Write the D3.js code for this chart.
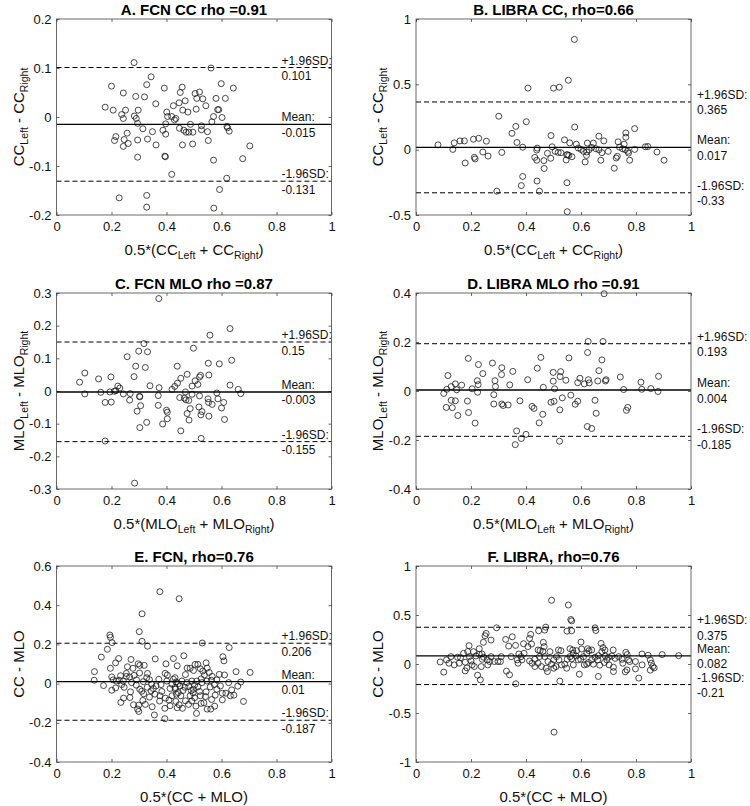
<!DOCTYPE html>
<html><head><meta charset="utf-8">
<script src="https://cdn.jsdelivr.net/npm/d3@7"></script>
<style>body{margin:0;background:#fff}svg{display:block;font-family:"Liberation Sans",Arial,Helvetica,sans-serif}</style>
</head><body><svg id="c" width="750" height="806"></svg>
<script>
// ---------- DATA ----------
const panelA = [[0.282,0.111],[0.562,0.100],[0.344,0.082],[0.200,0.063],[0.328,0.066],[0.392,0.059],[0.457,0.061],[0.599,0.068],[0.643,0.059],[0.243,0.049],[0.288,0.042],[0.320,0.041],[0.450,0.050],[0.504,0.048],[0.520,0.051],[0.510,0.038],[0.532,0.037],[0.580,0.038],[0.614,0.038],[0.361,0.027],[0.468,0.033],[0.446,0.029],[0.425,0.023],[0.543,0.023],[0.177,0.020],[0.206,0.014],[0.251,0.014],[0.297,0.014],[0.237,0.005],[0.243,-0.003],[0.283,0.002],[0.290,-0.003],[0.401,0.010],[0.459,0.014],[0.478,0.010],[0.508,0.016],[0.586,0.015],[0.590,0.015],[0.404,0.001],[0.419,0.001],[0.434,-0.003],[0.429,-0.006],[0.571,0.001],[0.602,-0.001],[0.565,-0.010],[0.295,-0.013],[0.397,-0.014],[0.487,-0.015],[0.527,-0.018],[0.620,-0.019],[0.622,-0.022],[0.314,-0.024],[0.447,-0.023],[0.463,-0.027],[0.471,-0.031],[0.481,-0.031],[0.496,-0.031],[0.527,-0.026],[0.549,-0.030],[0.628,-0.029],[0.257,-0.033],[0.216,-0.040],[0.211,-0.048],[0.246,-0.046],[0.261,-0.054],[0.243,-0.060],[0.295,-0.047],[0.331,-0.045],[0.349,-0.030],[0.387,-0.027],[0.397,-0.035],[0.362,-0.057],[0.458,-0.057],[0.495,-0.055],[0.552,-0.048],[0.703,-0.059],[0.295,-0.082],[0.394,-0.080],[0.396,-0.081],[0.571,-0.088],[0.677,-0.085],[0.419,-0.117],[0.619,-0.125],[0.593,-0.148],[0.228,-0.165],[0.328,-0.160],[0.328,-0.184],[0.572,-0.186]];

const panelB = [[0.576,0.844],[0.407,0.471],[0.500,0.471],[0.521,0.478],[0.554,0.531],[0.301,0.256],[0.401,0.214],[0.363,0.178],[0.349,0.125],[0.577,0.173],[0.795,0.161],[0.763,0.128],[0.491,0.108],[0.665,0.103],[0.763,0.095],[0.080,0.037],[0.139,0.052],[0.160,0.067],[0.176,0.067],[0.209,0.080],[0.228,0.087],[0.256,0.065],[0.367,0.055],[0.388,0.019],[0.540,0.075],[0.559,0.052],[0.583,0.042],[0.623,0.050],[0.645,0.050],[0.683,0.067],[0.735,0.060],[0.757,0.042],[0.134,0.002],[0.243,-0.018],[0.262,-0.049],[0.212,-0.059],[0.215,-0.071],[0.179,-0.102],[0.312,-0.021],[0.441,0.012],[0.439,-0.003],[0.495,0.022],[0.478,-0.028],[0.432,-0.059],[0.439,-0.081],[0.465,-0.084],[0.490,-0.066],[0.506,-0.013],[0.517,-0.021],[0.527,-0.023],[0.548,-0.039],[0.551,-0.039],[0.556,-0.044],[0.567,-0.054],[0.546,-0.079],[0.590,0.012],[0.600,0.002],[0.609,-0.013],[0.621,-0.018],[0.629,-0.001],[0.639,0.017],[0.654,0.007],[0.665,-0.001],[0.676,-0.023],[0.699,-0.013],[0.620,-0.044],[0.615,-0.094],[0.672,-0.081],[0.740,0.019],[0.751,0.007],[0.761,-0.001],[0.770,-0.013],[0.773,-0.026],[0.795,0.002],[0.732,-0.051],[0.728,-0.064],[0.777,-0.081],[0.834,0.022],[0.843,0.024],[0.876,-0.018],[0.902,-0.081],[0.721,-0.142],[0.466,-0.144],[0.388,-0.205],[0.440,-0.240],[0.383,-0.275],[0.294,-0.318],[0.449,-0.318],[0.549,-0.253],[0.550,-0.475]];

const panelC = [[0.372,0.283],[0.631,0.191],[0.558,0.171],[0.318,0.145],[0.299,0.122],[0.331,0.120],[0.498,0.131],[0.257,0.105],[0.637,0.094],[0.552,0.085],[0.592,0.083],[0.288,0.076],[0.323,0.072],[0.439,0.076],[0.103,0.055],[0.153,0.037],[0.198,0.043],[0.282,0.044],[0.475,0.051],[0.524,0.048],[0.554,0.049],[0.084,0.027],[0.223,0.015],[0.230,0.009],[0.340,0.016],[0.373,0.010],[0.430,0.014],[0.440,0.024],[0.452,0.039],[0.493,0.015],[0.504,0.031],[0.514,0.020],[0.520,0.043],[0.631,0.018],[0.661,0.005],[0.103,-0.009],[0.161,-0.004],[0.194,-0.003],[0.210,-0.001],[0.216,0.001],[0.243,-0.009],[0.268,-0.008],[0.302,-0.016],[0.303,-0.018],[0.370,-0.014],[0.420,0.005],[0.448,-0.020],[0.465,-0.022],[0.469,-0.003],[0.471,-0.027],[0.481,-0.029],[0.493,-0.010],[0.520,-0.015],[0.551,-0.024],[0.553,-0.035],[0.566,-0.041],[0.583,-0.006],[0.587,-0.024],[0.608,-0.035],[0.670,-0.008],[0.177,-0.035],[0.199,-0.034],[0.266,-0.028],[0.306,-0.045],[0.293,-0.062],[0.370,-0.044],[0.400,-0.059],[0.403,-0.065],[0.403,-0.085],[0.486,-0.054],[0.475,-0.069],[0.482,-0.089],[0.518,-0.049],[0.529,-0.063],[0.525,-0.073],[0.554,-0.077],[0.600,-0.052],[0.611,-0.087],[0.328,-0.096],[0.303,-0.112],[0.386,-0.101],[0.452,-0.122],[0.526,-0.145],[0.177,-0.153],[0.284,-0.282]];

const panelD = [[0.684,0.397],[0.626,0.202],[0.680,0.202],[0.624,0.157],[0.190,0.133],[0.454,0.137],[0.556,0.135],[0.676,0.127],[0.227,0.108],[0.278,0.114],[0.312,0.095],[0.352,0.080],[0.243,0.071],[0.311,0.067],[0.441,0.093],[0.499,0.076],[0.526,0.079],[0.524,0.059],[0.116,0.063],[0.223,0.042],[0.287,0.042],[0.406,0.046],[0.499,0.040],[0.545,0.044],[0.596,0.052],[0.588,0.034],[0.612,0.029],[0.627,0.046],[0.630,0.033],[0.665,0.083],[0.661,0.041],[0.689,0.041],[0.691,0.046],[0.743,0.057],[0.818,0.036],[0.882,0.060],[0.143,0.029],[0.166,0.024],[0.128,0.018],[0.148,0.005],[0.112,0.007],[0.101,-0.010],[0.204,0.009],[0.226,0.026],[0.224,-0.005],[0.289,0.018],[0.341,0.025],[0.463,0.015],[0.504,0.009],[0.755,0.006],[0.821,0.007],[0.854,0.010],[0.880,-0.002],[0.128,-0.038],[0.143,-0.040],[0.110,-0.067],[0.132,-0.068],[0.187,-0.041],[0.283,-0.015],[0.283,-0.053],[0.312,-0.053],[0.317,-0.059],[0.335,-0.057],[0.378,-0.040],[0.422,-0.063],[0.429,-0.071],[0.491,-0.046],[0.502,-0.042],[0.532,-0.028],[0.563,-0.017],[0.588,-0.042],[0.579,-0.054],[0.651,-0.038],[0.523,-0.077],[0.191,-0.088],[0.152,-0.100],[0.461,-0.095],[0.655,-0.091],[0.770,-0.067],[0.765,-0.079],[0.215,-0.131],[0.448,-0.130],[0.623,-0.145],[0.639,-0.153],[0.366,-0.163],[0.400,-0.177],[0.383,-0.194],[0.361,-0.219],[0.522,-0.205]];

const panelE = [[0.376,0.469],[0.446,0.433],[0.311,0.356],[0.301,0.265],[0.194,0.248],[0.196,0.236],[0.202,0.209],[0.311,0.216],[0.331,0.191],[0.530,0.207],[0.628,0.184],[0.185,0.175],[0.163,0.135],[0.605,0.137],[0.609,0.116],[0.226,0.128],[0.215,0.106],[0.271,0.123],[0.297,0.101],[0.359,0.126],[0.425,0.128],[0.463,0.142],[0.398,0.101],[0.544,0.106],[0.514,0.098],[0.196,0.078],[0.138,0.061],[0.137,0.017],[0.171,-0.010],[0.201,0.034],[0.206,0.019],[0.233,0.040],[0.254,0.052],[0.258,0.086],[0.278,0.078],[0.303,0.093],[0.319,0.093],[0.266,0.034],[0.282,0.042],[0.302,0.054],[0.331,0.052],[0.338,0.020],[0.395,0.052],[0.403,0.044],[0.439,0.091],[0.475,0.079],[0.486,0.078],[0.498,0.067],[0.504,0.098],[0.523,0.076],[0.532,0.064],[0.548,0.079],[0.555,0.057],[0.566,0.037],[0.592,0.047],[0.611,0.044],[0.653,0.061],[0.704,0.057],[0.538,0.044],[0.526,0.024],[0.469,0.046],[0.372,0.022],[0.425,0.022],[0.435,0.008],[0.443,0.000],[0.449,-0.012],[0.420,-0.003],[0.380,-0.005],[0.362,-0.012],[0.237,-0.005],[0.215,-0.022],[0.246,-0.019],[0.290,-0.008],[0.316,0.010],[0.330,-0.019],[0.344,-0.037],[0.201,-0.034],[0.234,-0.096],[0.269,-0.042],[0.310,-0.039],[0.338,-0.069],[0.358,-0.054],[0.267,-0.071],[0.280,-0.108],[0.299,-0.110],[0.299,-0.142],[0.295,-0.130],[0.314,-0.086],[0.323,-0.106],[0.348,-0.118],[0.356,-0.160],[0.394,-0.179],[0.375,-0.089],[0.396,-0.074],[0.409,-0.084],[0.394,-0.126],[0.413,-0.113],[0.432,-0.029],[0.436,-0.054],[0.420,-0.062],[0.434,-0.091],[0.439,-0.123],[0.452,-0.062],[0.460,-0.035],[0.467,-0.019],[0.481,-0.015],[0.490,-0.035],[0.497,-0.047],[0.502,-0.007],[0.510,0.013],[0.514,-0.017],[0.520,-0.040],[0.502,-0.072],[0.492,-0.089],[0.480,-0.106],[0.507,-0.115],[0.509,-0.152],[0.526,-0.101],[0.536,-0.098],[0.542,-0.066],[0.544,-0.042],[0.559,-0.017],[0.563,0.017],[0.574,-0.005],[0.583,0.019],[0.577,-0.059],[0.564,-0.081],[0.548,-0.130],[0.561,-0.130],[0.575,-0.115],[0.603,-0.049],[0.616,-0.049],[0.637,-0.032],[0.645,-0.059],[0.659,-0.013],[0.670,0.008],[0.680,-0.091],[0.603,-0.083],[0.469,-0.088],[0.446,-0.108],[0.458,-0.126],[0.244,-0.074],[0.317,-0.052],[0.383,-0.040],[0.352,-0.025],[0.254,0.037],[0.228,0.017],[0.431,0.030],[0.456,0.013],[0.474,0.005],[0.492,0.013],[0.498,-0.029],[0.529,0.005],[0.547,0.013],[0.431,-0.020],[0.401,0.013],[0.413,-0.025],[0.243,0.013],[0.273,0.005],[0.303,-0.029],[0.291,0.019],[0.328,0.030],[0.218,0.013],[0.346,-0.003],[0.376,-0.062],[0.443,-0.046],[0.486,-0.062],[0.523,-0.062],[0.596,-0.012],[0.626,0.005],[0.632,-0.062],[0.583,-0.029]];

const panelF = [[0.493,0.650],[0.554,0.602],[0.563,0.454],[0.566,0.440],[0.651,0.369],[0.654,0.342],[0.549,0.335],[0.566,0.339],[0.472,0.376],[0.468,0.346],[0.293,0.369],[0.255,0.312],[0.251,0.288],[0.273,0.244],[0.245,0.221],[0.326,0.251],[0.350,0.278],[0.337,0.183],[0.362,0.190],[0.417,0.302],[0.413,0.261],[0.420,0.204],[0.407,0.177],[0.391,0.207],[0.446,0.339],[0.463,0.221],[0.466,0.177],[0.600,0.224],[0.673,0.210],[0.193,0.187],[0.230,0.156],[0.444,0.143],[0.451,0.136],[0.461,0.129],[0.393,0.109],[0.560,0.156],[0.570,0.143],[0.584,0.136],[0.602,0.153],[0.624,0.156],[0.629,0.136],[0.680,0.167],[0.687,0.143],[0.717,0.143],[0.763,0.119],[0.822,0.102],[0.844,0.089],[0.895,0.096],[0.955,0.085],[0.188,0.126],[0.209,0.126],[0.173,0.109],[0.151,0.069],[0.127,0.075],[0.111,0.042],[0.088,0.021],[0.120,0.008],[0.139,-0.009],[0.101,-0.083],[0.162,0.065],[0.179,0.018],[0.194,0.075],[0.200,0.031],[0.218,0.082],[0.230,0.099],[0.240,0.102],[0.246,0.069],[0.241,0.048],[0.259,0.042],[0.268,0.025],[0.285,0.025],[0.298,0.025],[0.307,0.025],[0.212,-0.026],[0.185,-0.040],[0.179,-0.070],[0.204,-0.009],[0.237,-0.026],[0.224,-0.114],[0.234,-0.161],[0.329,-0.073],[0.340,-0.110],[0.363,-0.202],[0.368,0.042],[0.374,0.102],[0.382,0.075],[0.385,0.042],[0.413,0.031],[0.422,0.008],[0.432,0.048],[0.449,0.075],[0.456,-0.026],[0.473,-0.043],[0.478,-0.077],[0.493,-0.002],[0.501,0.042],[0.511,0.075],[0.518,0.143],[0.527,0.136],[0.520,0.042],[0.529,-0.009],[0.541,-0.002],[0.501,-0.043],[0.509,-0.026],[0.550,0.048],[0.560,0.075],[0.566,0.055],[0.572,0.109],[0.582,0.082],[0.590,0.042],[0.599,0.048],[0.609,0.075],[0.612,-0.009],[0.621,-0.002],[0.627,0.015],[0.639,0.042],[0.645,-0.002],[0.651,0.069],[0.661,0.042],[0.668,-0.012],[0.663,0.085],[0.676,0.126],[0.688,0.082],[0.700,0.069],[0.712,0.082],[0.724,0.058],[0.737,0.075],[0.749,0.048],[0.768,0.096],[0.773,0.042],[0.777,0.025],[0.685,0.015],[0.694,0.042],[0.702,-0.009],[0.718,-0.033],[0.718,-0.077],[0.767,-0.060],[0.761,-0.080],[0.798,-0.050],[0.810,-0.144],[0.852,0.042],[0.856,0.008],[0.861,-0.026],[0.866,-0.040],[0.852,-0.063],[0.663,-0.127],[0.594,-0.104],[0.523,-0.175],[0.572,-0.009],[0.548,-0.043],[0.432,-0.026],[0.444,0.008],[0.371,0.008],[0.346,0.075],[0.310,0.075],[0.273,0.075],[0.502,-0.695],[0.468,0.075],[0.480,0.025],[0.487,0.126],[0.621,0.109],[0.639,0.143],[0.752,0.008],[0.822,-0.009],[0.261,-0.009],[0.157,0.008],[0.798,0.025]];

const titles = ["A. FCN CC rho =0.91","B. LIBRA CC, rho=0.66","C. FCN MLO rho =0.87","D. LIBRA MLO rho =0.91","E. FCN, rho=0.76","F. LIBRA, rho=0.76"];
const upperSD = [0.101, 0.365, 0.15, 0.193, 0.206, 0.375];
const meanDiff = [-0.015, 0.017, -0.003, 0.004, 0.01, 0.082];
const lowerSD = [-0.131, -0.33, -0.155, -0.185, -0.187, -0.21];
const upperLabels = ["0.101","0.365","0.15","0.193","0.206","0.375"];
const meanLabels = ["-0.015","0.017","-0.003","0.004","0.01","0.082"];
const lowerLabels = ["-0.131","-0.33","-0.155","-0.185","-0.187","-0.21"];
const yTicksA = [-0.2,-0.1,0,0.1,0.2];
const yTicksB = [-0.5,0,0.5,1];
const yTicksC = [-0.3,-0.2,-0.1,0,0.1,0.2,0.3];
const yTicksD = [-0.4,-0.2,0,0.2,0.4];
const yTicksE = [-0.4,-0.2,0,0.2,0.4,0.6];
const yTicksF = [-1,-0.5,0,0.5,1];
const xTicks = [0,0.2,0.4,0.6,0.8,1];
const xLabelParts = [
  [["0.5*(CC",0],["Left",1],[" + CC",0],["Right",1],[")",0]],
  [["0.5*(MLO",0],["Left",1],[" + MLO",0],["Right",1],[")",0]],
  [["0.5*(CC + MLO)",0]]
];
const yLabelParts = [
  [["CC",0],["Left",1],[" - CC",0],["Right",1]],
  [["MLO",0],["Left",1],[" - MLO",0],["Right",1]],
  [["CC - MLO",0]]
];

const panels = [
  {data: panelA, ticks: yTicksA},
  {data: panelB, ticks: yTicksB},
  {data: panelC, ticks: yTicksC},
  {data: panelD, ticks: yTicksD},
  {data: panelE, ticks: yTicksE},
  {data: panelF, ticks: yTicksF}
];

// ---------- LAYOUT ----------
const colLeft = [56.5, 416];
const rowTop = [19, 293, 566];
const W = 275, H = 196;
const fmt = d => String(+d.toFixed(2));
const svg = d3.select("#c");

function addParts(textSel, parts, big, small) {
  let sub = false;
  parts.forEach(([t, s]) => {
    const ts = textSel.append("tspan").text(t).style("font-size", (s ? small : big) + "px");
    if (s && !sub) { ts.attr("dy", 4); sub = true; }
    else if (!s && sub) { ts.attr("dy", -4); sub = false; }
  });
}

panels.forEach((p, i) => {
  const col = i % 2, row = Math.floor(i / 2);
  const left = colLeft[col], top = rowTop[row];
  const ticks = p.ticks;
  const x = d3.scaleLinear().domain([0, 1]).range([left, left + W]);
  const y = d3.scaleLinear().domain([ticks[0], ticks[ticks.length - 1]]).range([top + H, top]);
  const g = svg.append("g");

  // axes (inward ticks on all four sides)
  const styleAxis = sel => {
    sel.select(".domain").remove();
    sel.selectAll("line").attr("stroke", "#444").attr("stroke-width", 0.8);
    sel.selectAll("text").attr("fill", "#111").style("font-size", "13px")
      .style("font-family", '"Liberation Sans",Arial,Helvetica,sans-serif');
  };
  g.append("g").attr("transform", `translate(0,${top + H})`)
    .call(d3.axisBottom(x).tickValues(xTicks).tickFormat(fmt).tickSizeInner(-3).tickSizeOuter(0).tickPadding(7))
    .call(styleAxis);
  g.append("g").attr("transform", `translate(0,${top})`)
    .call(d3.axisTop(x).tickValues(xTicks).tickFormat("").tickSizeInner(-3).tickSizeOuter(0))
    .call(styleAxis);
  g.append("g").attr("transform", `translate(${left},0)`)
    .call(d3.axisLeft(y).tickValues(ticks).tickFormat(fmt).tickSizeInner(-3).tickSizeOuter(0).tickPadding(5))
    .call(styleAxis);
  g.append("g").attr("transform", `translate(${left + W},0)`)
    .call(d3.axisRight(y).tickValues(ticks).tickFormat("").tickSizeInner(-3).tickSizeOuter(0))
    .call(styleAxis);

  // points
  g.append("g").selectAll("circle").data(p.data).join("circle")
    .attr("cx", d => x(d[0])).attr("cy", d => y(d[1])).attr("r", 3)
    .attr("fill", "none").attr("stroke", "#1a1a1a").attr("stroke-width", 0.8);

  // mean and limits
  g.append("line").attr("x1", x(0)).attr("x2", x(1)).attr("y1", y(meanDiff[i])).attr("y2", y(meanDiff[i]))
    .attr("stroke", "#000").attr("stroke-width", 1.3);
  [upperSD[i], lowerSD[i]].forEach(v => {
    g.append("line").attr("x1", x(0)).attr("x2", x(1)).attr("y1", y(v)).attr("y2", y(v))
      .attr("stroke", "#000").attr("stroke-width", 1).attr("stroke-dasharray", "5,3");
  });

  // box
  g.append("rect").attr("x", left).attr("y", top).attr("width", W).attr("height", H)
    .attr("fill", "none").attr("stroke", "#444").attr("stroke-width", 0.8);

  // limit labels
  const lx = col === 0 ? x(0.818) : x(1.022);
  const lab = (txt, yy) => g.append("text").attr("x", lx).attr("y", yy).text(txt)
    .attr("fill", "#111").style("font-size", "12px");
  lab("+1.96SD:", y(upperSD[i]) - 3);
  lab(upperLabels[i], y(upperSD[i]) + 12.5);
  lab("Mean:", y(meanDiff[i]) - 3);
  lab(meanLabels[i], y(meanDiff[i]) + 12.5);
  lab("-1.96SD:", y(lowerSD[i]) - 3);
  lab(lowerLabels[i], y(lowerSD[i]) + 12.5);

  // title
  g.append("text").attr("x", left + W / 2).attr("y", top - 4).attr("text-anchor", "middle")
    .style("font-size", "15px").style("font-weight", "bold").attr("fill", "#000").text(titles[i]);

  // x label
  const xl = g.append("text").attr("x", left + W / 2).attr("y", top + H + 40)
    .attr("text-anchor", "middle").attr("fill", "#111");
  addParts(xl, xLabelParts[row], 15, 10.5);

  // y label
  const yl = g.append("text").attr("transform", `translate(${left - 33},${top + H / 2}) rotate(-90)`)
    .attr("text-anchor", "middle").attr("fill", "#111");
  addParts(yl, yLabelParts[row], 15, 10.5);
});
</script></body></html>
